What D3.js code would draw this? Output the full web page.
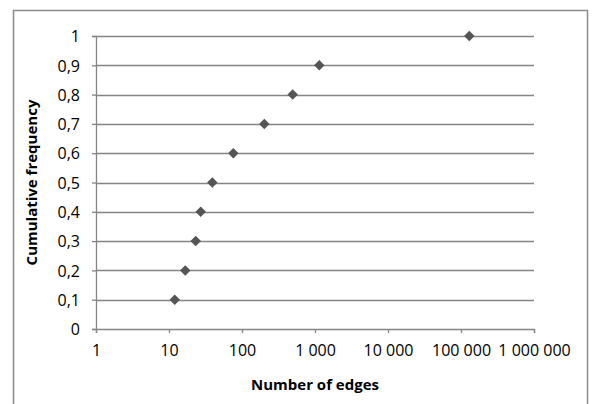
<!DOCTYPE html>
<html>
<head>
<meta charset="utf-8">
<script src="https://cdn.jsdelivr.net/npm/d3@7"></script>
<style>
  body { margin: 0; background: #fff; }
  text { font-family: "Open Sans", sans-serif; fill: #000; }
</style>
</head>
<body>
<div id="chart-area"></div>
<script>
// data
var freq = [0.1, 0.2, 0.3, 0.4, 0.5, 0.6, 0.7, 0.8, 0.9, 1];
var edges = [12, 16.7, 23.2, 27.2, 39.2, 76, 202, 495, 1145, 130000];
var xTicks = [1, 10, 100, 1000, 10000, 100000, 1000000];
var yTicks = [0, 0.1, 0.2, 0.3, 0.4, 0.5, 0.6, 0.7, 0.8, 0.9, 1];

var data = freq.map(function(f, i) { return {freq: f, edges: edges[i]}; });

var W = 592, H = 404;
var margin = {top: 36, right: 58, bottom: 75, left: 96};
var width = W - margin.left - margin.right;
var height = H - margin.top - margin.bottom;

// comma decimal, space thousands
var loc = d3.formatLocale({decimal: ",", thousands: "\u00a0", grouping: [3], currency: ["", ""]});
var fmtX = loc.format(",d");
var fmtY = function(d) { return d === 0 || d === 1 ? String(d) : loc.format(".1f")(d); };

var svg = d3.select("#chart-area").append("svg")
  .attr("width", W)
  .attr("height", H);

// outer frame
svg.append("rect")
  .attr("x", 13.5).attr("y", 10.5)
  .attr("width", 574).attr("height", 420)
  .attr("fill", "none").attr("stroke", "#8c8c8c").attr("stroke-width", 1.5);

var g = svg.append("g")
  .attr("transform", "translate(" + margin.left + "," + margin.top + ")");

var x = d3.scaleLog().domain([1, 1000000]).range([0, width]);
var y = d3.scaleLinear().domain([0, 1]).range([height, 0]);

// horizontal gridlines
g.selectAll(".grid").data(yTicks.slice(1)).enter().append("line")
  .attr("class", "grid")
  .attr("x1", 0).attr("x2", width)
  .attr("y1", function(d) { return Math.round(y(d)) + 0.5; })
  .attr("y2", function(d) { return Math.round(y(d)) + 0.5; })
  .attr("stroke", "#858585").attr("stroke-width", 1.3);

var yAxis = d3.axisLeft(y).tickValues(yTicks).tickFormat(fmtY).tickSize(4).tickPadding(12);
var xAxis = d3.axisBottom(x).tickValues(xTicks).tickFormat(fmtX).tickSize(4).tickPadding(9);

var gy = g.append("g").attr("class", "axis y-axis").call(yAxis);
var gx = g.append("g").attr("class", "axis x-axis")
  .attr("transform", "translate(0," + height + ")").call(xAxis);

[gx, gy].forEach(function(a) {
  a.select(".domain").attr("stroke", "#858585").attr("stroke-width", 1.3);
  a.selectAll(".tick line").attr("stroke", "#858585").attr("stroke-width", 1.3);
  a.selectAll(".tick text").attr("font-size", 16).attr("font-family", "Open Sans").attr("fill", "#111");
});
gy.selectAll(".tick text").attr("dy", "0.36em");
gx.selectAll(".tick text").attr("dy", "0.85em");

// diamonds
g.selectAll(".pt").data(data).enter().append("path")
  .attr("class", "pt")
  .attr("d", d3.symbol().type(d3.symbolDiamond2).size(70))
  .attr("transform", function(d) { return "translate(" + x(d.edges) + "," + y(d.freq) + ")"; })
  .attr("fill", "#555");

// axis titles
g.append("text")
  .attr("text-anchor", "middle")
  .attr("x", width / 2)
  .attr("y", height + 61)
  .attr("font-size", 15).attr("font-weight", "bold")
  .text("Number of edges");

g.append("text")
  .attr("text-anchor", "middle")
  .attr("transform", "translate(" + (37 - margin.left) + "," + (height / 2) + ") rotate(-90)")
  .attr("font-size", 15).attr("font-weight", "bold")
  .text("Cumulative frequency");
</script>
</body>
</html>
